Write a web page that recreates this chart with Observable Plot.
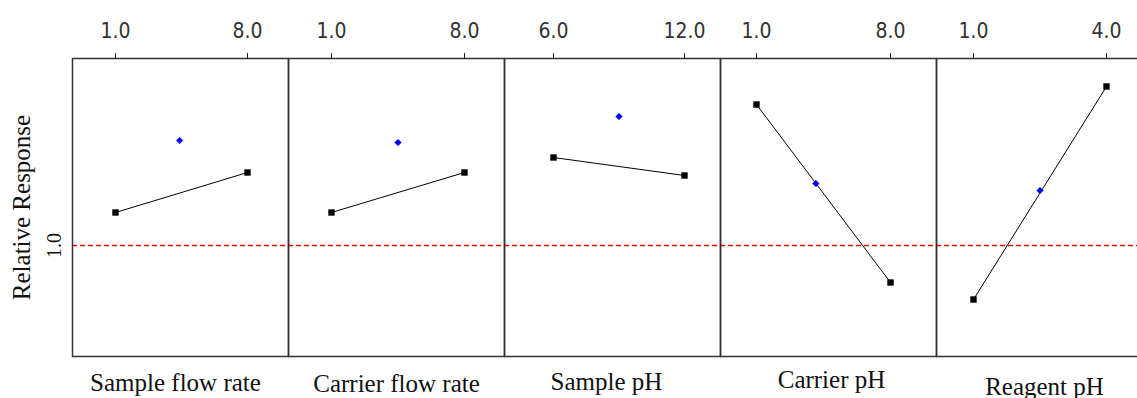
<!DOCTYPE html>
<html><head><meta charset="utf-8">
<script src="https://cdn.jsdelivr.net/npm/d3@7"></script>
<script src="https://cdn.jsdelivr.net/npm/@observablehq/plot@0.6"></script>
<style>
html,body{margin:0;padding:0;background:#fff;overflow:hidden;width:1137px;height:398px}
#chart{position:relative;width:1137px;height:398px;overflow:hidden}
#chart svg{position:absolute;top:0}
#chart svg .flabel text, #chart svg .ylab text, #chart svg .ytick text{font-family:"Liberation Serif","Times New Roman",serif}
</style></head><body><div id="chart"></div>
<script>
// ---- data ----
const factors = ["Sample flow rate", "Carrier flow rate", "Sample pH", "Carrier pH", "Reagent pH"];
const lowLevels = [1.0, 1.0, 6.0, 1.0, 1.0];
const highLevels = [8.0, 8.0, 12.0, 8.0, 4.0];
const centerLevels = [4.4, 4.5, 9.0, 4.1, 2.5];
const lowResponse = [1.132, 1.132, 1.352, 1.564, 0.784];
const highResponse = [1.292, 1.292, 1.280, 0.852, 1.636];
const centerResponse = [1.420, 1.412, 1.516, 1.248, 1.220];
const referenceLevel = 1.0;
const yTicks = [1.0];
const yLabel = "Relative Response";

// ---- layout ----
const yDomain = [0.556, 1.748];
const panelW = 216, left0 = 72, H = 398, mTop = 58, mBottom = 42;
const tickOffsets = [[43,175],[43,176],[49,180],[36,170],[37,170]];
const labelDx = [-5, 0, -6, 3, 0];
const labelBaseline = [390, 391, 389, 387, 394];
const serif = "Liberation Serif";
const tickFont = "DejaVu Sans Condensed";
const fmt = d3.format(".1f");

const chart = document.getElementById("chart");
factors.forEach((name, i) => {
  const first = i === 0;
  const ml = first ? left0 : 0;
  const w = panelW + ml;
  const [a, b] = tickOffsets[i];
  const ends = [{x: lowLevels[i], y: lowResponse[i]}, {x: highLevels[i], y: highResponse[i]}];
  const ctr = [{x: centerLevels[i], y: centerResponse[i]}];
  const marks = [
    Plot.ruleY([referenceLevel], {stroke: "#ff0000", strokeWidth: 1.5, strokeDasharray: "5,3"}),
    Plot.line(ends, {x: "x", y: "y", stroke: "#000", strokeWidth: 1}),
    Plot.dot(ends, {x: "x", y: "y", symbol: "square", fill: "#000", r: 3.6}),
    Plot.dot(ctr, {x: "x", y: "y", symbol: "diamond2", fill: "#0000ff", stroke: "#0000ff", strokeWidth: 0.5, r: 3}),
    Plot.frame({stroke: "#333", strokeWidth: 1.5}),
    Plot.axisX({anchor: "top", ticks: [lowLevels[i], highLevels[i]], tickFormat: fmt, tickSize: 6, tickPadding: 15,
      fontSize: 21, fontFamily: tickFont, stroke: "#222", fill: "#333", label: null}),
    Plot.text([name], {text: d => d, frameAnchor: "bottom", lineAnchor: "middle", textAnchor: "middle",
      className: "flabel",
      dx: labelDx[i], dy: labelBaseline[i] - (H - mBottom) - 8, fontSize: 25, fill: "#111"})
  ];
  if (first) {
    marks.push(
      Plot.axisY({ticks: yTicks, tickFormat: fmt, tickSize: 0, tickRotate: -90, tickPadding: 12,
        className: "ytick", fontSize: 20, fill: "#111", label: null}),
      Plot.text([yLabel], {text: d => d, frameAnchor: "left", textAnchor: "middle", lineAnchor: "middle",
        className: "ylab", rotate: -90, dx: -51, fontSize: 25, fill: "#111"})
    );
  }
  const svg = Plot.plot({
    width: w, height: H,
    marginLeft: ml, marginRight: 0, marginTop: mTop, marginBottom: mBottom,
    style: {background: "transparent", overflow: "visible", fontFamily: serif},
    x: {domain: [lowLevels[i], highLevels[i]], range: [ml + a, ml + b], axis: null},
    y: {domain: yDomain, axis: null},
    marks
  });
  svg.style.left = (first ? 0 : left0 + panelW * i) + "px";
  chart.appendChild(svg);
});
</script>
</body></html>
